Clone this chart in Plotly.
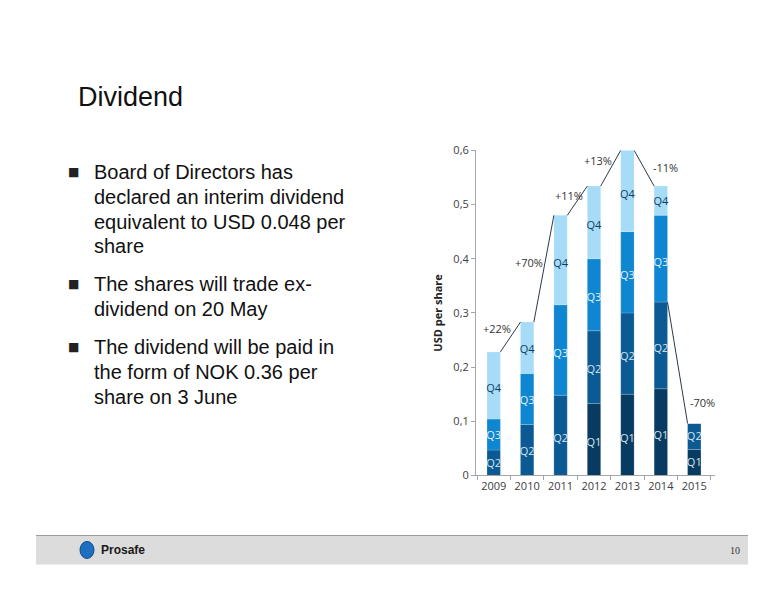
import plotly.graph_objects as go

years = ["2009", "2010", "2011", "2012", "2013", "2014", "2015"]
q1 = [None, None, None, 0.133, 0.150, 0.160, 0.048]
q2 = [0.047, 0.094, 0.148, 0.134, 0.150, 0.160, 0.048]
q3 = [0.057, 0.094, 0.167, 0.133, 0.150, 0.160, None]
q4 = [0.124, 0.095, 0.165, 0.134, 0.150, 0.054, None]
growth = ["+22%", "+70%", "+11%", "+13%", "-11%", "-70%"]
yticks = [0, 0.1, 0.2, 0.3, 0.4, 0.5, 0.6]
yticktext = ["0", "0,1", "0,2", "0,3", "0,4", "0,5", "0,6"]

FW, FH, OFF = 760, 584, 8
def px(x): return (x - OFF) / FW
def py(y):
    yy = (y - 7.9) / 0.974
    return 1 - (yy - OFF) / FH

quarters = [("Q1", q1, "#073b61", "#d6e6f2"), ("Q2", q2, "#0b5a93", "#d6e6f2"),
            ("Q3", q3, "#0f86d1", "#e6f3fb"), ("Q4", q4, "#a6dcf8", "#0d3f66")]
xs = list(range(len(years)))
W = 0.4
fig = go.Figure()
base = [0.0] * len(years)
labx, laby, labt, labc = [], [], [], []
for name, vals, col, tc in quarters:
    v = [x if x is not None else 0 for x in vals]
    fig.add_trace(go.Bar(x=xs, y=v, base=base[:], width=W, marker=dict(color=col, line=dict(color="rgba(255,255,255,0.35)", width=0.5)),
                         showlegend=False, hoverinfo="skip"))
    for i, val in enumerate(vals):
        if val:
            labx.append(i); laby.append(base[i] + val * 0.45); labt.append(name); labc.append(tc)
    base = [b + vv for b, vv in zip(base, v)]
totals = base
fig.add_trace(go.Scatter(x=labx, y=laby, text=labt, mode="text", textfont=dict(size=11, color=labc, family="Open Sans"),
                         showlegend=False, hoverinfo="skip"))
for i in range(len(years) - 1):
    y0 = totals[i]
    if i == len(years) - 2:
        y0 = (q1[i] or 0) + (q2[i] or 0)
    fig.add_trace(go.Scatter(x=[i + W / 2, i + 1 - W / 2], y=[y0, totals[i + 1]], mode="lines",
                             line=dict(color="#2b3a4a", width=1), showlegend=False, hoverinfo="skip"))
gpos = [(0.09, 0.271), (1.07, 0.393), (2.25, 0.517), (3.12, 0.582), (5.15, 0.569), (6.24, 0.135)]
for t, (gx, gy) in zip(growth, gpos):
    fig.add_annotation(x=gx, y=gy, text=t, showarrow=False, font=dict(size=11, color="#333", family="Open Sans"))

fig.update_layout(
    width=FW, height=FH, margin=dict(l=0, r=0, t=0, b=0), plot_bgcolor="white", paper_bgcolor="white",
    barmode="overlay",
    xaxis=dict(domain=[px(476), px(715)], range=[-0.53, 6.62], tickvals=xs, ticktext=years, showgrid=False,
               showline=True, linecolor="#a6a6a6", tickfont=dict(size=11, color="#404040", family="Open Sans"),
               ticks="", minor=dict(tickvals=[i - 0.5 for i in range(8)], ticks="outside", ticklen=4, tickcolor="#a6a6a6")),
    yaxis=dict(domain=[py(475), py(150)], range=[0, 0.6], tickvals=yticks, ticktext=yticktext, showgrid=False,
               showline=True, linecolor="#a6a6a6", ticks="outside", ticklen=4, tickcolor="#a6a6a6",
               tickfont=dict(size=11, color="#404040", family="Open Sans"),
               title=dict(text="<b>USD per share</b>", font=dict(size=11, color="#222", family="Open Sans"), standoff=8)),
)
fig.add_annotation(xref="paper", yref="paper", x=px(76), y=py(97), text="Dividend", showarrow=False,
                   xanchor="left", yanchor="middle", font=dict(size=27, color="#111", family="Liberation Sans"))
bullets = [
    [(172, "Board of Directors has"), (197, "declared an interim dividend"), (222, "equivalent to USD 0.048 per"), (246, "share")],
    [(284, "The shares will trade ex-"), (309, "dividend on 20 May")],
    [(347, "The dividend will be paid in"), (372, "the form of NOK 0.36 per"), (397, "share on 3 June")],
]
for b in bullets:
    fig.add_annotation(xref="paper", yref="paper", x=px(66), y=py(b[0][0]), text="■", showarrow=False,
                       xanchor="left", yanchor="middle", font=dict(size=12, color="#222", family="DejaVu Sans"))
    for yy, t in b:
        fig.add_annotation(xref="paper", yref="paper", x=px(92), y=py(yy), text=t, showarrow=False,
                           xanchor="left", yanchor="middle", font=dict(size=20, color="#111", family="Liberation Sans"))
fig.add_shape(type="rect", xref="paper", yref="paper", x0=px(36), x1=px(748), y0=py(564), y1=py(535),
              fillcolor="#dcdcdc", line=dict(width=0), layer="below")
fig.add_shape(type="line", xref="paper", yref="paper", x0=px(36), x1=px(748), y0=py(535), y1=py(535),
              line=dict(color="#9a9a9a", width=1))
fig.add_shape(type="circle", xref="paper", yref="paper", x0=px(80), x1=px(94), y0=py(558), y1=py(541),
              fillcolor="#1f6fc0", line=dict(color="#0d4d8f", width=1))
fig.add_annotation(xref="paper", yref="paper", x=px(99), y=py(550), text="<b>Prosafe</b>", showarrow=False,
                   xanchor="left", yanchor="middle", font=dict(size=12, color="#1a1a1a", family="Liberation Sans"))
fig.add_annotation(xref="paper", yref="paper", x=px(742), y=py(550), text="10", showarrow=False,
                   xanchor="right", yanchor="middle", font=dict(size=10, color="#333", family="Liberation Sans Narrow"))
fig.write_html("out.html")
